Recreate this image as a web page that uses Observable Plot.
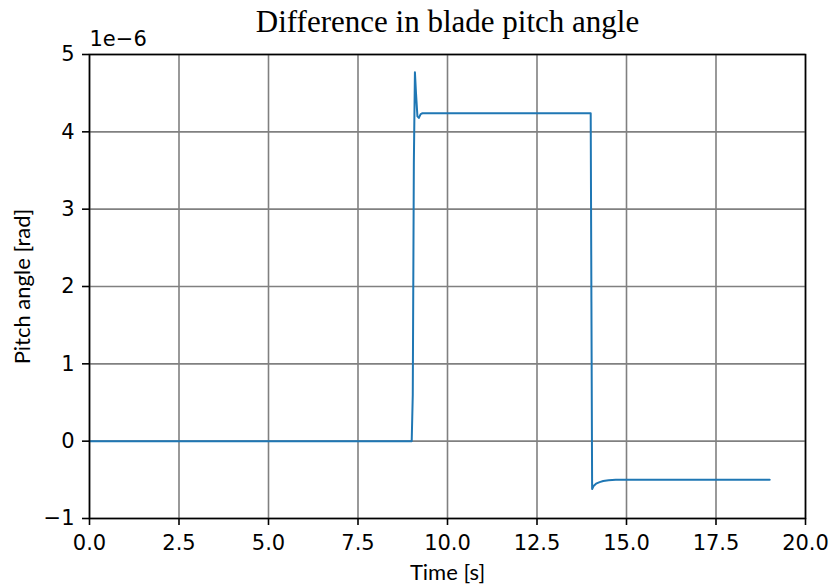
<!DOCTYPE html>
<html>
<head>
<meta charset="utf-8">
<script src="https://cdn.jsdelivr.net/npm/d3@7"></script>
<script src="https://cdn.jsdelivr.net/npm/@observablehq/plot@0.6"></script>
<style>
  html, body { margin: 0; padding: 0; background: white; }
</style>
</head>
<body>
<div id="chart"></div>
<script>
const title = "Difference in blade pitch angle";
const xLabel = "Time [s]";
const yLabel = "Pitch angle [rad]";
const offsetLabel = "1e\u22126";

const xTicks = [0, 2.5, 5, 7.5, 10, 12.5, 15, 17.5, 20];
const yTicks = [-1, 0, 1, 2, 3, 4, 5];

// time [s] and pitch-angle difference [1e-6 rad]
const time  = [0, 9.0, 9.03, 9.06, 9.09, 9.12, 9.16, 9.2, 9.25, 9.3, 14.0, 14.02, 14.04, 14.08, 14.15, 14.25, 14.35, 14.5, 14.7, 19.0];
const pitch = [0, 0, 0.6, 3.6, 4.77, 4.5, 4.2, 4.18, 4.23, 4.24, 4.24, 1.8, -0.62, -0.58, -0.55, -0.53, -0.515, -0.505, -0.5, -0.5];

const data = time.map((t, i) => ({t, v: pitch[i]}));

const fmtY = d => d < 0 ? "\u2212" + Math.abs(d) : String(d);

const chart = Plot.plot({
  width: 829,
  height: 588,
  marginLeft: 89,
  marginRight: 24,
  marginTop: 54,
  marginBottom: 70,
  style: {fontFamily: "DejaVu Sans", fontSize: "21px", background: "white", color: "black"},
  x: {domain: [0, 20]},
  y: {domain: [-1, 5]},
  marks: [
    Plot.gridX(xTicks, {stroke: "#808080", strokeOpacity: 1, strokeWidth: 1.6}),
    Plot.gridY(yTicks, {stroke: "#808080", strokeOpacity: 1, strokeWidth: 1.6}),
    Plot.line(data, {x: "t", y: "v", stroke: "#1f77b4", strokeWidth: 2}),
    Plot.frame({stroke: "black", strokeWidth: 1.6}),
    Plot.axisX(xTicks, {tickSize: 7, tickPadding: 10, tickFormat: d => d.toFixed(1), label: null, fontSize: 21, strokeWidth: 1.6}),
    Plot.axisY(yTicks, {tickSize: 7, tickPadding: 8, tickFormat: fmtY, label: null, fontSize: 21, strokeWidth: 1.6}),
    Plot.text([offsetLabel], {frameAnchor: "top-left", dy: -15, dx: 0, textAnchor: "start", lineAnchor: "middle", fontSize: 21}),
    Plot.text([title], {frameAnchor: "top", dy: -32, lineAnchor: "middle", fontFamily: "Liberation Serif", fontSize: 31}),
    Plot.text([xLabel], {frameAnchor: "bottom", dy: 54, lineAnchor: "middle", fontFamily: "Lato", fontSize: 22}),
    Plot.text([yLabel], {frameAnchor: "left", dx: -67, rotate: -90, textAnchor: "middle", lineAnchor: "middle", fontFamily: "Lato", fontSize: 22})
  ]
});
document.getElementById("chart").appendChild(chart);
</script>
</body>
</html>
